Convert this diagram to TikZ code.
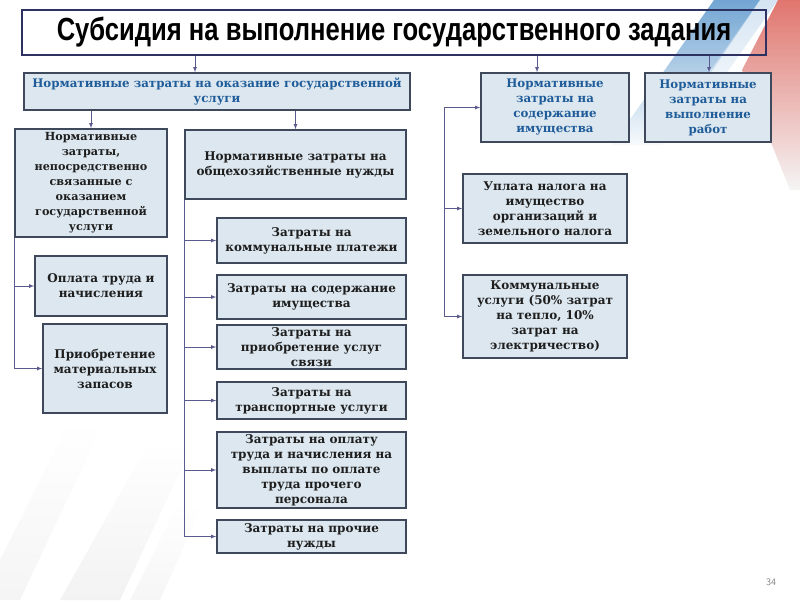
\documentclass[tikz,border=0pt]{standalone}
\usepackage{fontspec}
\setmainfont{DejaVu Serif}
\newfontfamily\titlefont{Liberation Sans}[FakeStretch=0.8]
\definecolor{boxfill}{HTML}{DCE7EF}
\definecolor{boxline}{HTML}{3E4A5C}
\definecolor{titleline}{HTML}{2E3262}
\definecolor{linkline}{HTML}{5B5A8E}
\definecolor{headtext}{HTML}{1F5C99}
\definecolor{bodytext}{HTML}{1E1E1E}
\definecolor{swooshblue}{HTML}{4F8FC8}
\definecolor{swooshred}{HTML}{D9534A}
\begin{document}
\begin{tikzpicture}[x=1pt,y=-1pt,
    box/.style={draw=boxline, line width=1.5pt, fill=boxfill, align=center,
      inner sep=1pt, text=bodytext, font=\bfseries\fontsize{12}{15}\selectfont},
    headbox/.style={box, text=headtext, font=\bfseries\fontsize{11.8}{15}\selectfont},
    link/.style={draw=linkline, line width=0.8pt, -latex}]
    \useasboundingbox (0,0) rectangle (800,600);

    % Draw background swoosh
    \shade[top color=swooshblue, bottom color=swooshblue!5, opacity=0.8]
      (714,0) -- (760,0) -- (662,145) -- (612,145) -- cycle;
    \shade[top color=swooshblue!40, bottom color=white, opacity=0.6]
      (760,0) -- (778,0) -- (690,125) -- (672,125) -- cycle;
    \shade[top color=swooshred, bottom color=gray!10, opacity=0.8]
      (778,0) -- (800,0) -- (800,190) -- (790,190) -- (742,70) -- cycle;
    \shade[top color=white, bottom color=gray!10]
      (60,600) -- (150,440) -- (190,450) -- (120,600) -- cycle;
    \shade[top color=white, bottom color=gray!8]
      (0,560) -- (70,420) -- (100,430) -- (20,600) -- (0,600) -- cycle;
    \shade[top color=white, bottom color=gray!7]
      (130,600) -- (180,500) -- (200,510) -- (160,600) -- cycle;

    % Draw title
    \node[draw=titleline, line width=1.3pt, minimum width=744pt, minimum height=45pt,
      font=\titlefont\bfseries\fontsize{32}{32}\selectfont] (title) at (394,32.5)
      {Субсидия на выполнение государственного задания};

    % Draw first level
    \node[headbox, minimum width=386pt, minimum height=37pt] (service) at (217,91.5)
      {Нормативные затраты на оказание государственной\\услуги};
    \node[headbox, minimum width=148pt, minimum height=69pt] (property) at (555,107.5)
      {Нормативные\\затраты на\\содержание\\имущества};
    \node[headbox, minimum width=126pt, minimum height=69pt] (works) at (708,107.5)
      {Нормативные\\затраты на\\выполнение\\работ};

    % Draw second level
    \node[box, minimum width=152pt, minimum height=108pt,
      font=\bfseries\fontsize{11.2}{15}\selectfont] (direct) at (91,183)
      {Нормативные\\затраты,\\непосредственно\\связанные с\\оказанием\\государственной\\услуги};
    \node[box, minimum width=221pt, minimum height=69pt] (general) at (295.5,164.5)
      {Нормативные затраты на\\общехозяйственные нужды};

    % Draw direct costs
    \node[box, minimum width=132pt, minimum height=60pt] (salary) at (101,286)
      {Оплата труда и\\начисления};
    \node[box, minimum width=124pt, minimum height=89pt] (stock) at (105,368.5)
      {Приобретение\\материальных\\запасов};

    % Draw general costs
    \node[box, minimum width=189pt, minimum height=45pt] (utility) at (311.5,240.5)
      {Затраты на\\коммунальные платежи};
    \node[box, minimum width=189pt, minimum height=44pt] (upkeep) at (311.5,297)
      {Затраты на содержание\\имущества};
    \node[box, minimum width=189pt, minimum height=44pt] (comm) at (311.5,347)
      {Затраты на\\приобретение услуг\\связи};
    \node[box, minimum width=189pt, minimum height=37pt] (transport) at (311.5,400.5)
      {Затраты на\\транспортные услуги};
    \node[box, minimum width=189pt, minimum height=76pt] (staff) at (311.5,470)
      {Затраты на оплату\\труда и начисления на\\выплаты по оплате\\труда прочего\\персонала};
    \node[box, minimum width=189pt, minimum height=33pt] (other) at (311.5,536.5)
      {Затраты на прочие\\нужды};

    % Draw property costs
    \node[box, minimum width=164pt, minimum height=69pt] (tax) at (545,208.5)
      {Уплата налога на\\имущество\\организаций и\\земельного налога};
    \node[box, minimum width=164pt, minimum height=83pt] (heat) at (545,316.5)
      {Коммунальные\\услуги (50\% затрат\\на тепло, 10\%\\затрат на\\электричество)};

    % Draw links from title
    \draw[link] (title.south -| 195,0) -- (195,0 |- service.north);
    \draw[link] (title.south -| 537,0) -- (537,0 |- property.north);
    \draw[link] (title.south -| 709,0) -- (709,0 |- works.north);
    \draw[link] (service.south -| direct) -- (direct.north);
    \draw[link] (service.south -| general) -- (general.north);

    % Draw left bus
    \draw[link] (direct.south west) |- (salary.west);
    \draw[link] (direct.south west) |- (stock.west);

    % Draw middle bus
    \foreach \n in {utility,upkeep,comm,transport,staff,other}
      \draw[link] (general.south west) |- (\n.west);

    % Draw right bus
    \coordinate (bus) at (444,316.5);
    \draw[link] (bus) -- (heat.west);
    \draw[link] (bus) |- (tax.west);
    \draw[link] (bus) |- (property.west);

    % Draw page number
    \node[text=gray, font=\sffamily\fontsize{10}{10}\selectfont] (page) at (771,582) {34};
\end{tikzpicture}
\end{document}
